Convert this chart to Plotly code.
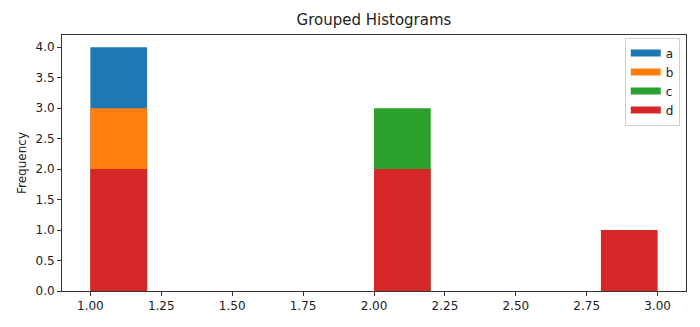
import plotly.graph_objects as go

bin_left = [1.0, 1.2, 1.4, 1.6, 1.8, 2.0, 2.2, 2.4, 2.6, 2.8]
bin_width = 0.2
series_names = ["a", "b", "c", "d"]
counts_a = [4, 0, 0, 0, 0, 0, 0, 0, 0, 0]
counts_b = [3, 0, 0, 0, 0, 0, 0, 0, 0, 0]
counts_c = [0, 0, 0, 0, 0, 3, 0, 0, 0, 0]
counts_d = [2, 0, 0, 0, 0, 2, 0, 0, 0, 1]
colors = ["#1f77b4", "#ff7f0e", "#2ca02c", "#d62728"]

x_ticks = [1.0, 1.25, 1.5, 1.75, 2.0, 2.25, 2.5, 2.75, 3.0]
y_ticks = [0.0, 0.5, 1.0, 1.5, 2.0, 2.5, 3.0, 3.5, 4.0]

fig = go.Figure()
centers = [b + bin_width / 2 for b in bin_left]
for name, cnt, col in zip(series_names, [counts_a, counts_b, counts_c, counts_d], colors):
    fig.add_trace(go.Bar(x=centers, y=cnt, width=bin_width, marker=dict(color=col, line=dict(width=0)),
                         name=name, showlegend=False, opacity=1))
for name, col in zip(series_names, colors):
    fig.add_trace(go.Scatter(x=[None], y=[None], mode="lines", line=dict(color=col, width=7),
                             name=name, showlegend=True))

font = "DejaVu Sans"
fig.update_layout(
    width=700, height=327,
    margin=dict(l=62, r=14, t=35, b=36),
    paper_bgcolor="white", plot_bgcolor="white",
    barmode="overlay",
    font=dict(family=font, size=12, color="#222"),
    title=dict(text="Grouped Histograms", x=0.5, xref="paper", xanchor="center",
               y=1 - 20 / 327, yanchor="middle", font=dict(size=15, family=font, color="#222")),
    xaxis=dict(range=[0.9, 3.1], tickvals=x_ticks, ticktext=[f"{v:.2f}" for v in x_ticks],
               showgrid=False, zeroline=False, showline=True, linecolor="#333", linewidth=1, mirror=True,
               ticks="outside", ticklen=4, tickcolor="#333", tickfont=dict(size=12)),
    yaxis=dict(range=[0, 4.2], tickvals=y_ticks, ticktext=[f"{v:.1f}" for v in y_ticks],
               showgrid=False, zeroline=False, showline=True, linecolor="#333", linewidth=1, mirror=True,
               ticks="outside", ticklen=4, tickcolor="#333", tickfont=dict(size=12),
               title=dict(text="Frequency", standoff=6, font=dict(size=12, family=font))),
    legend=dict(x=0.990, xanchor="right", y=0.99, yanchor="top", bordercolor="#d0d0d0", borderwidth=1,
                bgcolor="rgba(255,255,255,0.8)", font=dict(size=12, family=font), itemwidth=30,
                tracegroupgap=0),
)
fig.write_html("out.html")
